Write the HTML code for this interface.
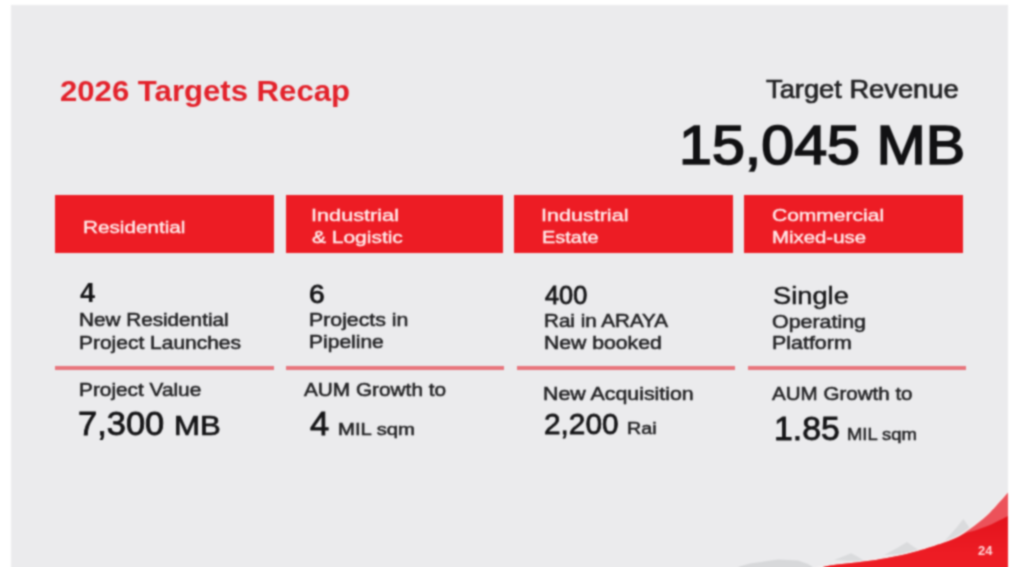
<!DOCTYPE html>
<html><head><meta charset="utf-8"><title>2026 Targets Recap</title>
<style>
html,body{margin:0;padding:0;background:#fff;width:1024px;height:567px;overflow:hidden;}
body{position:relative;font-family:"Liberation Sans",sans-serif;}
#slide{position:absolute;left:11px;top:5px;width:997px;height:562px;background:#ebebed;overflow:hidden;}
#wrap{position:absolute;left:0;top:0;width:1024px;height:567px;overflow:hidden;filter:url(#soft);}
.t{position:absolute;transform-origin:0 0;line-height:1;white-space:nowrap;font-family:"Liberation Sans",sans-serif;}
.box{position:absolute;top:195px;height:58px;background:#ed1c24;}
.ln{position:absolute;top:366px;height:4px;background:#e8747c;}
#deco{position:absolute;left:11px;top:0;}
</style></head>
<body>
<svg width="0" height="0" style="position:absolute"><filter id="soft" x="0" y="0" width="100%" height="100%" color-interpolation-filters="sRGB"><feConvolveMatrix order="5" kernelMatrix="0.0039 0.0314 0.0628 0.0314 0.0039 0.0314 0.2506 0.5006 0.2506 0.0314 0.0628 0.5006 1.0000 0.5006 0.0628 0.0314 0.2506 0.5006 0.2506 0.0314 0.0039 0.0314 0.0628 0.0314 0.0039" edgeMode="duplicate" preserveAlpha="false"/></filter></svg>
<div id="wrap">
<div id="slide"></div>
<svg id="deco" width="997" height="567" viewBox="11 0 997 567">
<defs><linearGradient id="gm" x1="0" y1="0" x2="1" y2="0"><stop offset="0" stop-color="#e0e1e3"/><stop offset="1" stop-color="#d6d8da"/></linearGradient>
<linearGradient id="rg" x1="0" y1="0" x2="0" y2="1"><stop offset="0" stop-color="#e3131c"/><stop offset="0.45" stop-color="#ed1c24"/><stop offset="1" stop-color="#ee1f27"/></linearGradient></defs>
<path d="M734 600 L734 568 L750 563.5 L778 559.5 L798 560.5 L808 564 L816 569 L816 600 Z" fill="#d7d8da"/>
<path d="M940 546 L950 535 L957 527 L963.4 519 L969 527 L978 542 Z" fill="#dadbdd"/><path d="M884 555 L898 547.5 L907 542 L914 547 L924 553 Z" fill="#dadbdd"/><path d="M834 560 L845 555.8 L851 553.2 L857 556.2 L866 562 Z" fill="#dadbdd"/>
<path d="M814.0 568.5 C817.8 567.9 830.0 565.6 837.0 564.6 C844.0 563.6 849.5 563.2 856.0 562.4 C862.5 561.6 869.3 560.9 876.0 559.9 C882.7 558.9 889.0 557.8 896.0 556.3 C903.0 554.8 910.2 553.2 918.0 551.0 C925.8 548.8 936.5 545.2 943.0 543.0 C949.5 540.8 952.5 539.8 957.0 537.5 C961.5 535.2 964.8 532.8 970.0 529.0 C975.2 525.2 981.7 520.6 988.0 514.5 C994.3 508.4 1004.7 496.2 1008.0 492.5" fill="none" stroke="#f4f0f0" stroke-width="2.6"/>
<path d="M814.0 568.5 C817.8 567.9 830.0 565.6 837.0 564.6 C844.0 563.6 849.5 563.2 856.0 562.4 C862.5 561.6 869.3 560.9 876.0 559.9 C882.7 558.9 889.0 557.8 896.0 556.3 C903.0 554.8 910.2 553.2 918.0 551.0 C925.8 548.8 936.5 545.2 943.0 543.0 C949.5 540.8 952.5 539.8 957.0 537.5 C961.5 535.2 964.8 532.8 970.0 529.0 C975.2 525.2 981.7 520.6 988.0 514.5 C994.3 508.4 1004.7 496.2 1008.0 492.5 L1008 600 L813 600 Z" fill="#ec525a"/>
<path d="M814.0 568.5 C817.8 567.9 830.0 565.6 837.0 564.6 C844.0 563.6 849.5 563.2 856.0 562.4 C862.5 561.6 869.3 560.9 876.0 559.9 C882.7 558.9 889.0 557.8 896.0 556.3 C903.0 554.8 910.2 553.2 918.0 551.0 C925.8 548.8 936.5 545.2 943.0 543.0 C949.5 540.8 953.2 539.2 957.0 537.5 C960.8 535.8 963.0 534.2 966.0 533.0 C969.0 531.8 970.8 531.9 975.0 530.5 C979.2 529.1 985.5 526.9 991.0 524.5 C996.5 522.1 1005.2 517.4 1008.0 516.0 L1008 600 L813 600 Z" fill="url(#rg)"/>
</svg>
<div class="box" style="left:55.0px;width:219.0px"></div>
<div class="box" style="left:286.0px;width:217.0px"></div>
<div class="box" style="left:514.0px;width:219.0px"></div>
<div class="box" style="left:744.0px;width:219.0px"></div>
<div class="ln" style="left:55.0px;width:219.0px"></div>
<div class="ln" style="left:285.5px;width:218.5px"></div>
<div class="ln" style="left:517.0px;width:218.0px"></div>
<div class="ln" style="left:748.0px;width:218.0px"></div>

<div class="t" style="left:59.9px;top:75.5px;font-size:29.5px;font-weight:700;color:#e3222b;-webkit-text-stroke:0.00px #e3222b;transform:scaleX(1.0549)">2026 Targets Recap</div>
<div class="t" style="left:766.0px;top:76.0px;font-size:26px;font-weight:400;color:#222224;-webkit-text-stroke:0.69px #222224;transform:scaleX(1.0492)">Target Revenue</div>
<div class="t" style="left:678.8px;top:116.6px;font-size:56px;font-weight:400;color:#111113;-webkit-text-stroke:1.70px #111113;transform:scaleX(1.0568)">15,045 MB</div>
<div class="t" style="left:83.3px;top:218.7px;font-size:17.2px;font-weight:400;color:#ffeaea;-webkit-text-stroke:0.42px #ffeaea;transform:scaleX(1.2048)">Residential</div>
<div class="t" style="left:311.0px;top:207.2px;font-size:17.2px;font-weight:400;color:#ffeaea;-webkit-text-stroke:0.42px #ffeaea;transform:scaleX(1.2612)">Industrial</div>
<div class="t" style="left:311.8px;top:229.2px;font-size:17.2px;font-weight:400;color:#ffeaea;-webkit-text-stroke:0.42px #ffeaea;transform:scaleX(1.2192)">&amp; Logistic</div>
<div class="t" style="left:541.0px;top:207.2px;font-size:17.2px;font-weight:400;color:#ffeaea;-webkit-text-stroke:0.42px #ffeaea;transform:scaleX(1.2537)">Industrial</div>
<div class="t" style="left:542.3px;top:229.2px;font-size:17.2px;font-weight:400;color:#ffeaea;-webkit-text-stroke:0.42px #ffeaea;transform:scaleX(1.1596)">Estate</div>
<div class="t" style="left:771.8px;top:207.2px;font-size:17.2px;font-weight:400;color:#ffeaea;-webkit-text-stroke:0.42px #ffeaea;transform:scaleX(1.2222)">Commercial</div>
<div class="t" style="left:772.3px;top:229.2px;font-size:17.2px;font-weight:400;color:#ffeaea;-webkit-text-stroke:0.42px #ffeaea;transform:scaleX(1.1859)">Mixed-use</div>
<div class="t" style="left:79.5px;top:279.3px;font-size:28px;font-weight:700;color:#141416;-webkit-text-stroke:0.00px #141416;transform:scaleX(0.9688)">4</div>
<div class="t" style="left:78.8px;top:311.7px;font-size:17.7px;font-weight:400;color:#222224;-webkit-text-stroke:0.51px #222224;transform:scaleX(1.1706)">New Residential</div>
<div class="t" style="left:78.8px;top:334.6px;font-size:17.7px;font-weight:400;color:#222224;-webkit-text-stroke:0.51px #222224;transform:scaleX(1.1852)">Project Launches</div>
<div class="t" style="left:78.8px;top:381.7px;font-size:17.7px;font-weight:400;color:#222224;-webkit-text-stroke:0.51px #222224;transform:scaleX(1.1765)">Project Value</div>
<div class="t" style="left:78.4px;top:407.4px;font-size:33px;font-weight:400;color:#141416;-webkit-text-stroke:0.83px #141416;transform:scaleX(1.0437)">7,300</div>
<div class="t" style="left:173.7px;top:412.0px;font-size:27.5px;font-weight:400;color:#141416;-webkit-text-stroke:0.72px #141416;transform:scaleX(1.1316)">MB</div>
<div class="t" style="left:308.9px;top:281.8px;font-size:25px;font-weight:400;color:#141416;-webkit-text-stroke:0.80px #141416;transform:scaleX(1.1250)">6</div>
<div class="t" style="left:308.8px;top:312.2px;font-size:17.7px;font-weight:400;color:#222224;-webkit-text-stroke:0.51px #222224;transform:scaleX(1.2037)">Projects in</div>
<div class="t" style="left:308.8px;top:333.7px;font-size:17.7px;font-weight:400;color:#222224;-webkit-text-stroke:0.51px #222224;transform:scaleX(1.1885)">Pipeline</div>
<div class="t" style="left:304.0px;top:381.7px;font-size:17.7px;font-weight:400;color:#222224;-webkit-text-stroke:0.51px #222224;transform:scaleX(1.1750)">AUM Growth to</div>
<div class="t" style="left:310.0px;top:406.9px;font-size:33.5px;font-weight:400;color:#141416;-webkit-text-stroke:0.84px #141416;transform:scaleX(1.0294)">4</div>
<div class="t" style="left:338.2px;top:422.2px;font-size:15.7px;font-weight:400;color:#222224;-webkit-text-stroke:0.47px #222224;transform:scaleX(1.2931)">MIL sqm</div>
<div class="t" style="left:545.0px;top:283.3px;font-size:25px;font-weight:400;color:#141416;-webkit-text-stroke:0.80px #141416;transform:scaleX(1.0122)">400</div>
<div class="t" style="left:543.8px;top:313.2px;font-size:17.7px;font-weight:400;color:#222224;-webkit-text-stroke:0.51px #222224;transform:scaleX(1.1651)">Rai in ARAYA</div>
<div class="t" style="left:543.8px;top:335.2px;font-size:17.7px;font-weight:400;color:#222224;-webkit-text-stroke:0.51px #222224;transform:scaleX(1.1979)">New booked</div>
<div class="t" style="left:543.3px;top:385.7px;font-size:17.7px;font-weight:400;color:#222224;-webkit-text-stroke:0.51px #222224;transform:scaleX(1.2073)">New Acquisition</div>
<div class="t" style="left:543.5px;top:409.1px;font-size:30px;font-weight:400;color:#141416;-webkit-text-stroke:0.77px #141416;transform:scaleX(0.9932)">2,200</div>
<div class="t" style="left:626.9px;top:420.1px;font-size:17.2px;font-weight:400;color:#222224;-webkit-text-stroke:0.50px #222224;transform:scaleX(1.1458)">Rai</div>
<div class="t" style="left:772.8px;top:284.5px;font-size:23px;font-weight:400;color:#141416;-webkit-text-stroke:0.45px #141416;transform:scaleX(1.1855)">Single</div>
<div class="t" style="left:771.8px;top:313.7px;font-size:17.7px;font-weight:400;color:#222224;-webkit-text-stroke:0.51px #222224;transform:scaleX(1.2105)">Operating</div>
<div class="t" style="left:771.8px;top:335.2px;font-size:17.7px;font-weight:400;color:#222224;-webkit-text-stroke:0.51px #222224;transform:scaleX(1.2109)">Platform</div>
<div class="t" style="left:772.0px;top:386.2px;font-size:17.7px;font-weight:400;color:#222224;-webkit-text-stroke:0.51px #222224;transform:scaleX(1.1625)">AUM Growth to</div>
<div class="t" style="left:774.0px;top:411.6px;font-size:33.5px;font-weight:400;color:#141416;-webkit-text-stroke:0.84px #141416;transform:scaleX(1.0081)">1.85</div>
<div class="t" style="left:846.8px;top:427.2px;font-size:15.7px;font-weight:400;color:#222224;-webkit-text-stroke:0.47px #222224;transform:scaleX(1.1724)">MIL sqm</div>
<div class="t" style="left:977.5px;top:545.4px;font-size:12.5px;font-weight:700;color:#ffd6d8;-webkit-text-stroke:0.00px #ffd6d8;transform:scaleX(1.0357)">24</div>
</div>
</body></html>
